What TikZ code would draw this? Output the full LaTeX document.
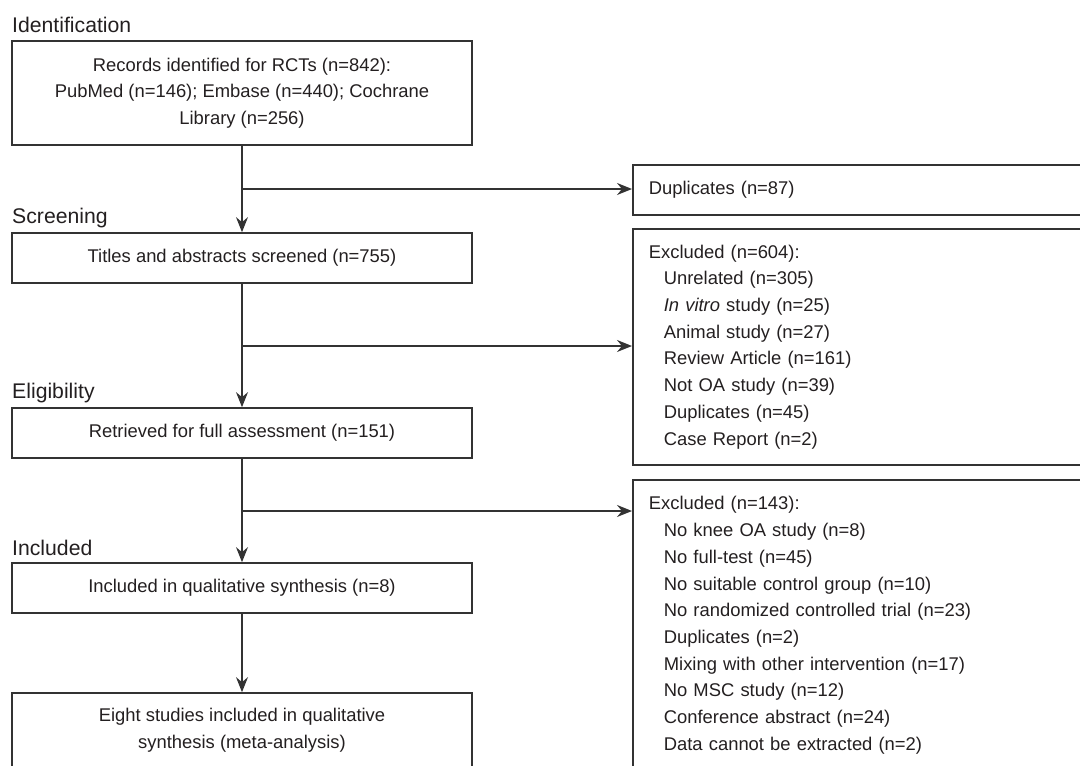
\documentclass[tikz,border=0pt]{standalone}
\usepackage{fontspec}
\setmainfont{Liberation Sans}
\usetikzlibrary{arrows.meta}
\definecolor{lc}{HTML}{333333}
\definecolor{tx}{HTML}{231F20}
\begin{document}
\begin{tikzpicture}[x=1pt,y=-1pt,
  every node/.style={text=tx, font=\fontsize{18.4}{26.7}\selectfont},
  box/.style={draw=lc, line width=1.7pt, rectangle, minimum width=460pt, align=center, inner sep=0pt},
  rbox/.style={draw=lc, line width=1.7pt, rectangle, minimum width=520pt, text width=488pt, align=left, inner xsep=16pt, inner ysep=0pt, anchor=north west},
  arr/.style={draw=lc, line width=1.7pt, -{Stealth[length=15pt,width=12pt,inset=5pt]}},
  stage/.style={anchor=base west, font=\fontsize{21.2}{25}\selectfont, inner sep=0pt}
]
\useasboundingbox (0,0) rectangle (1080,766);
\clip (0,0) rectangle (1080,766);

% stage labels
\node[stage] (lid) at (12,32) {Identification};
\node[stage] (lsc) at (12,223) {Screening};
\node[stage] (lel) at (12,398) {Eligibility};
\node[stage] (lin) at (12,555) {Included};

% left column
\node[box, minimum height=104pt] (b1) at (242,93) {Records identified for RCTs (n=842):\\PubMed (n=146); Embase (n=440); Cochrane\\Library (n=256)};
\node[box, minimum height=50pt] (b2) at (242,258) {Titles and abstracts screened (n=755)};
\node[box, minimum height=50pt] (b3) at (242,433) {Retrieved for full assessment (n=151)};
\node[box, minimum height=50pt] (b4) at (242,588) {Included in qualitative synthesis (n=8)};
\node[box, minimum height=75pt] (b5) at (242,730.5) {Eight studies included in qualitative\\synthesis (meta-analysis)};

% right column
\node[rbox, minimum height=50pt] (dup) at (632,164) {Duplicates (n=87)};
\node[rbox, minimum height=236pt] (ex1) at (632,228) {Excluded (n=604):\\
\hspace*{15pt}Unrelated (n=305)\\
\hspace*{15pt}\textit{In vitro} study (n=25)\\
\hspace*{15pt}Animal study (n=27)\\
\hspace*{15pt}Review Article (n=161)\\
\hspace*{15pt}Not OA study (n=39)\\
\hspace*{15pt}Duplicates (n=45)\\
\hspace*{15pt}Case Report (n=2)};
\node[rbox, minimum height=291pt] (ex2) at (632,479) {Excluded (n=143):\\
\hspace*{15pt}No knee OA study (n=8)\\
\hspace*{15pt}No full-test (n=45)\\
\hspace*{15pt}No suitable control group (n=10)\\
\hspace*{15pt}No randomized controlled trial (n=23)\\
\hspace*{15pt}Duplicates (n=2)\\
\hspace*{15pt}Mixing with other intervention (n=17)\\
\hspace*{15pt}No MSC study (n=12)\\
\hspace*{15pt}Conference abstract (n=24)\\
\hspace*{15pt}Data cannot be extracted (n=2)};

% connectors
\draw[arr] (b1.south) -- (b2.north);
\draw[arr] (b2.south) -- (b3.north);
\draw[arr] (b3.south) -- (b4.north);
\draw[arr] (b4.south) -- (b5.north);
\coordinate (j1) at (242,189);
\coordinate (j2) at (242,346);
\coordinate (j3) at (242,511);
\draw[arr] (j1) -- (dup.west |- j1);
\draw[arr] (j2) -- (ex1.west |- j2);
\draw[arr] (j3) -- (ex2.west |- j3);
\end{tikzpicture}
\end{document}
